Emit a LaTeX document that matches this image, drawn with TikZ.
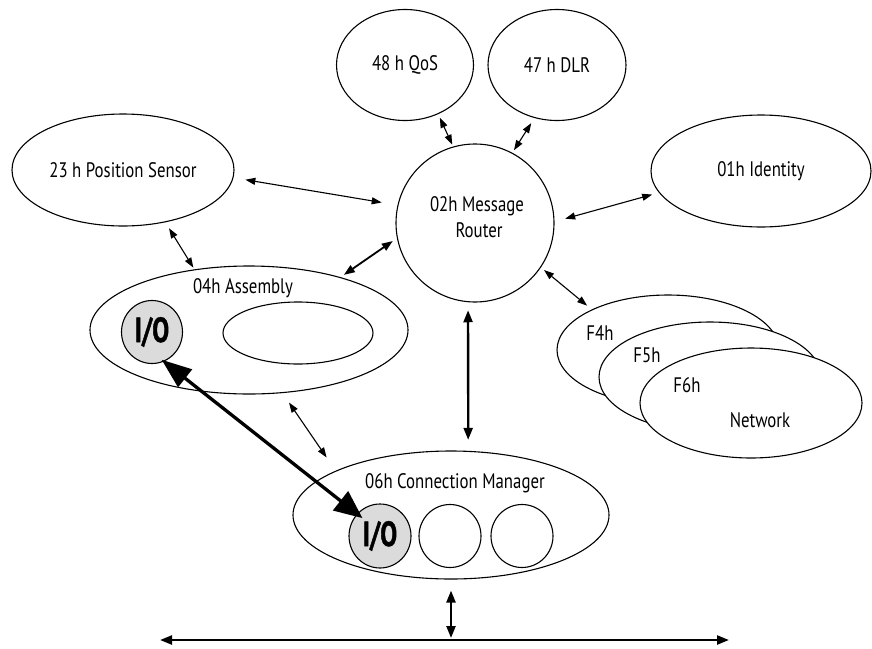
\documentclass[tikz,border=0pt]{standalone}
\usepackage{fontspec}
\setmainfont[FakeStretch=0.8]{PT Sans}
\newfontfamily\iofont[FakeStretch=0.72, BoldFeatures={FakeBold=1.2}]{PT Sans}
\usetikzlibrary{shapes.geometric,arrows.meta}
\definecolor{io-gray}{gray}{0.86}

\tikzset{
  obj/.style={draw, ellipse, line width=1.1pt, fill=white, inner sep=0pt},
  io/.style={obj, fill=io-gray, font=\fontsize{35}{37}\iofont\bfseries},
  lbl/.style={anchor=base, inner sep=0pt},
  thin link/.style={{Triangle[length=10pt,width=7pt]}-{Triangle[length=10pt,width=7pt]}, line width=1.1pt},
  mid link/.style={{Triangle[length=11pt,width=8pt]}-{Triangle[length=11pt,width=8pt]}, line width=1.8pt},
  thick link/.style={{Triangle[length=12pt,width=9pt]}-{Triangle[length=12pt,width=9pt]}, line width=2.3pt},
  io link/.style={{Triangle[length=30pt,width=22pt]}-{Triangle[length=28pt,width=24pt]}, line width=3.3pt},
}

\begin{document}
\begin{tikzpicture}[x=1pt,y=-1pt,font=\fontsize{21}{24}\selectfont]
\useasboundingbox (0,0) rectangle (872,648);

% objects around the router
\node[obj, minimum width=137pt, minimum height=111pt] (qos) at (405,65) {48 h QoS};
\node[obj, minimum width=138pt, minimum height=111pt] (dlr) at (557,65) {47 h DLR};
\node[obj, minimum width=222pt, minimum height=112pt] (pos) at (123,170) {23 h Position Sensor};
\node[obj, minimum width=220pt, minimum height=112pt] (ident) at (761,171) {01h Identity};
\node[obj, circle, minimum size=158pt] (router) at (475,223) {};
\node[lbl] (routerA) at (477,211) {02h Message};
\node[lbl] (routerB) at (479,237) {Router};

% assembly
\node[obj, minimum width=318pt, minimum height=128pt] (asm) at (249,330) {};
\node[lbl] (asmlbl) at (243,293) {04h Assembly};
\node[obj, minimum width=150pt, minimum height=62pt] (asmdata) at (298,333) {};
\node[io, minimum width=61pt, minimum height=63pt] (ioA) at (152,332) {I/O};

% connection manager
\node[obj, minimum width=316pt, minimum height=128pt] (cm) at (451,515) {};
\node[lbl] (cmlbl) at (455,488) {06h Connection Manager};
\node[io, minimum width=62pt, minimum height=64pt] (ioB) at (380,536) {I/O};
\node[obj, minimum width=62pt, minimum height=63pt] (slotB) at (450,536) {};
\node[obj, minimum width=62pt, minimum height=63pt] (slotC) at (522,536) {};

% network objects
\foreach \n/\dx/\dy in {4/0/0, 5/42/27, 6/83/53}
  \node[obj, minimum width=222pt, minimum height=110pt] (f\n) at (668+\dx,350+\dy) {};
\node[lbl] (f4lbl) at (600,340) {F4h};
\node[lbl] (f5lbl) at (647,362) {F5h};
\node[lbl] (f6lbl) at (687,392) {F6h};
\node[lbl] (netlbl) at (760,427) {Network};

% links
\draw[thin link, shorten <=12pt, shorten >=16pt] (pos.-4.7) -- (router.167.3);
\draw[thin link, shorten <=7pt, shorten >=2pt] (pos.-51) -- (asm.132.6);
\draw[mid link, shorten <=4pt, shorten >=5pt] (asm.30.3) -- (router.191.7);
\draw[thin link, shorten <=4pt, shorten >=2pt] (qos.-56.6) -- (router.106);
\draw[thin link, shorten <=6pt, shorten >=3pt] (dlr.-113.3) -- (router.62.5);
\draw[thin link, shorten <=11pt, shorten >=7pt] (router.1.9) -- (ident.-168.6);
\draw[thin link, shorten <=4pt, shorten >=6pt] (router.-34.3) -- (f4.152.6);
\draw[thick link, shorten <=8pt, shorten >=11pt] (router.-95) -- (cm.75);
\draw[thin link, shorten <=11.5pt, shorten >=16pt] (asm.-62.6) -- (cm.159);
\draw[io link, shorten <=-3pt, shorten >=-7pt] (ioA.-68) -- (ioB.136.7);

% bus
\coordinate (busL) at (160,640);
\coordinate (busR) at (729,640);
\coordinate (busM) at (451,640);
\draw[thick link, shorten <=11pt, shorten >=2pt] (cm.-90) -- (busM);
\draw[thick link] (busL) -- (busR);
\end{tikzpicture}
\end{document}
